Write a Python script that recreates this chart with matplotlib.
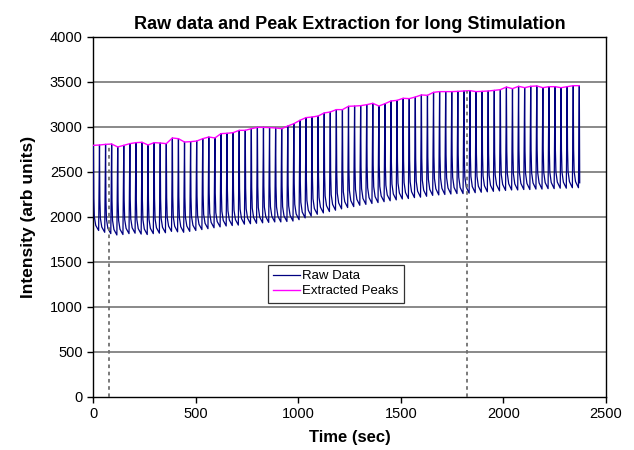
import numpy as np
import matplotlib
matplotlib.use("Agg")
import matplotlib.pyplot as plt

plt.rcParams['font.family'] = ['Liberation Sans', 'DejaVu Sans']

# ---- data ----
t_start = 2.0          # time of first peak (sec)
period = 29.6          # stimulation period (sec)

peak_values = [2796, 2800, 2807, 2811, 2778, 2796, 2815, 2826, 2830, 2800,
               2826, 2822, 2815, 2878, 2870, 2833, 2837, 2844, 2870, 2889,
               2878, 2926, 2930, 2937, 2963, 2963, 2981, 2996, 2996, 2993,
               2989, 2981, 3011, 3037, 3074, 3104, 3111, 3122, 3156, 3167,
               3193, 3193, 3230, 3233, 3237, 3248, 3263, 3233, 3259, 3289,
               3296, 3319, 3315, 3333, 3356, 3352, 3385, 3393, 3393, 3393,
               3396, 3400, 3404, 3393, 3396, 3400, 3407, 3415, 3444, 3426,
               3452, 3437, 3452, 3456, 3437, 3448, 3448, 3437, 3448, 3459,
               3459]

trough_values = [1850, 1830, 1815, 1800, 1805, 1815, 1820, 1810, 1805, 1815,
                 1820, 1825, 1840, 1835, 1830, 1840, 1850, 1860, 1870, 1880,
                 1890, 1900, 1905, 1910, 1920, 1925, 1930, 1935, 1940, 1945,
                 1945, 1950, 1955, 1970, 1990, 2010, 2030, 2045, 2060, 2075,
                 2090, 2105, 2115, 2130, 2140, 2150, 2160, 2170, 2180, 2190,
                 2200, 2205, 2215, 2220, 2230, 2240, 2245, 2250, 2255, 2260,
                 2260, 2265, 2270, 2275, 2280, 2285, 2290, 2295, 2300, 2300,
                 2305, 2305, 2310, 2310, 2315, 2315, 2320, 2320, 2325, 2325]

start_value = 2800     # first sample
end_value = 2380       # last sample after final peak

marker_times = [80, 1825]
marker_heights = [2810, 3400]

# shape of one decay (phase within period, fraction of amplitude left)
decay_phase = [0.06, 0.15, 0.38, 0.86]
decay_frac = [0.38, 0.16, 0.06, 0.0]

# ---- build series ----
n = len(peak_values)
peak_times = t_start + period * np.arange(n)

raw_t = [0.0]
raw_v = [start_value]
for i in range(n):
    raw_t.append(peak_times[i]); raw_v.append(peak_values[i])
    if i < n - 1:
        amp = peak_values[i] - trough_values[i]
        for ph, fr in zip(decay_phase, decay_frac):
            raw_t.append(peak_times[i] + ph * period)
            raw_v.append(trough_values[i] + fr * amp)
raw_t.append(peak_times[-1] + 2.0); raw_v.append(end_value)

# ---- figure ----
fig = plt.figure(figsize=(6.34, 4.5), dpi=100)
ax = fig.add_axes([0.1467, 0.1178, 0.8091, 0.8000])

for yv in range(500, 4001, 500):
    ax.axhline(yv, color='#808080', lw=1.3, zorder=1)

ax.plot(raw_t, raw_v, color='#000080', lw=0.9, label='Raw Data', zorder=3)
ax.plot(peak_times, peak_values, color='#FF00FF', lw=1.0,
        label='Extracted Peaks', zorder=4)

for mt, mh in zip(marker_times, marker_heights):
    ax.plot([mt, mt], [0, mh], color='#707070', lw=1.3,
            linestyle=(0, (2, 2)), zorder=5)

ax.set_xlim(0, 2500)
ax.set_ylim(0, 4000)
ax.set_xticks(range(0, 2501, 500))
ax.set_yticks(range(0, 4001, 500))
ax.tick_params(axis='both', labelsize=10.5, length=4, width=1, direction='out')
for s in ax.spines.values():
    s.set_linewidth(1.0)
    s.set_color('black')

ax.set_title('Raw data and Peak Extraction for long Stimulation',
             fontsize=13, fontweight='bold', pad=6)
ax.set_xlabel('Time (sec)', fontsize=12, fontweight='bold', labelpad=6)
ax.set_ylabel('Intensity (arb units)', fontsize=12.5, fontweight='bold', labelpad=10)

leg = ax.legend(loc='upper left', bbox_to_anchor=(0.341, 0.367), fontsize=9.5,
                frameon=True, fancybox=False, borderpad=0.4, handlelength=2.0,
                handletextpad=0.2, labelspacing=0.2, borderaxespad=0)
leg.get_frame().set_edgecolor('black')
leg.get_frame().set_linewidth(0.9)

fig.savefig('out.png', dpi=100)
